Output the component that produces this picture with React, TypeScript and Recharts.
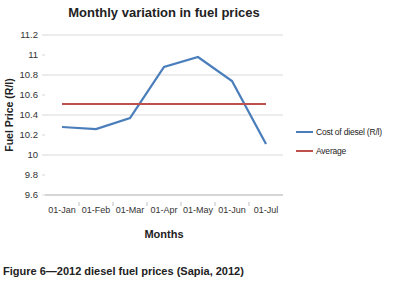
import React from 'react';
import { LineChart, Line, XAxis, YAxis, CartesianGrid } from 'recharts';

const months = ['01-Jan', '01-Feb', '01-Mar', '01-Apr', '01-May', '01-Jun', '01-Jul'];
const dieselCost = [10.28, 10.26, 10.37, 10.88, 10.98, 10.74, 10.11];
const averagePrice = [10.51, 10.51, 10.51, 10.51, 10.51, 10.51, 10.51];
const yTicks = [9.6, 9.8, 10, 10.2, 10.4, 10.6, 10.8, 11, 11.2];

const BLUE = '#4a7ebb';
const RED = '#c0504d';
const GRID = '#d9d9d9';
const FONT = '"Liberation Sans", Arial, sans-serif';

// plot area: x 45..283, y 35..195
const PLOT_LEFT = 45;
const PLOT_RIGHT = 283;
const HALF_BAND = (PLOT_RIGHT - PLOT_LEFT) / months.length / 2;

const data = months.map((m, i) => ({ month: m, cost: dieselCost[i], avg: averagePrice[i] }));

const MonthTick = (props: any) => {
  const { x, y, payload, index } = props;
  return (
    <g>
      {index < months.length - 1 && (
        <line x1={x + HALF_BAND} x2={x + HALF_BAND} y1={y - 1} y2={y + 3} stroke="#bfbfbf" />
      )}
      <text x={x} y={y + 10} textAnchor="middle" fontSize={9} fill="#333" fontFamily={FONT}>
        {payload.value}
      </text>
    </g>
  );
};

const legendItems = [
  { name: 'Cost of diesel (R/l)', color: BLUE },
  { name: 'Average', color: RED },
];

export default function App() {
  return (
    <div style={{ position: 'absolute', left: 0, top: 0, width: 406, height: 286, background: '#fff', fontFamily: FONT }}>
      <div style={{ position: 'absolute', left: 44, width: 240, top: 5, textAlign: 'center', fontSize: 13, fontWeight: 'bold', color: '#222' }}>
        Monthly variation in fuel prices
      </div>
      <LineChart width={406} height={286} data={data} margin={{ top: 35, right: 123, bottom: 61, left: 8 }}>
        <CartesianGrid vertical={false} stroke={GRID} />
        <XAxis
          dataKey="month"
          padding={{ left: HALF_BAND, right: HALF_BAND }}
          axisLine={{ stroke: '#bfbfbf' }}
          tickLine={false}
          tick={<MonthTick />}
          height={30}
          interval={0}
        />
        <YAxis
          domain={[9.6, 11.2]}
          ticks={yTicks}
          width={37}
          axisLine={false}
          tickSize={3}
          tickMargin={4}
          tickLine={{ stroke: GRID }}
          tick={{ fontSize: 9.5, fill: '#333', fontFamily: FONT }}
        />
        <Line dataKey="cost" stroke={BLUE} strokeWidth={2.25} dot={false} isAnimationActive={false} />
        <Line dataKey="avg" stroke={RED} strokeWidth={2} dot={false} isAnimationActive={false} />
      </LineChart>
      <div style={{ position: 'absolute', left: 1, top: 115, transform: 'translate(0, -50%) rotate(-90deg)', transformOrigin: 'center', whiteSpace: 'nowrap', fontSize: 10.5, fontWeight: 'bold', color: '#222', width: 16, display: 'flex', justifyContent: 'center' }}>
        Fuel Price (R/l)
      </div>
      <div style={{ position: 'absolute', left: 44, width: 240, top: 228, textAlign: 'center', fontSize: 11, fontWeight: 'bold', color: '#222' }}>
        Months
      </div>
      <div style={{ position: 'absolute', left: 296, top: 122 }}>
        {legendItems.map((item) => (
          <div key={item.name} style={{ display: 'flex', alignItems: 'center', height: 19 }}>
            <div style={{ width: 17, height: 2, background: item.color, marginRight: 3 }} />
            <span style={{ fontSize: 8.5, color: '#222', letterSpacing: -0.2 }}>{item.name}</span>
          </div>
        ))}
      </div>
      <div style={{ position: 'absolute', left: 3, top: 265, fontSize: 11, fontWeight: 'bold', color: '#222', whiteSpace: 'nowrap' }}>
        Figure 6—2012 diesel fuel prices (Sapia, 2012)
      </div>
    </div>
  );
}
